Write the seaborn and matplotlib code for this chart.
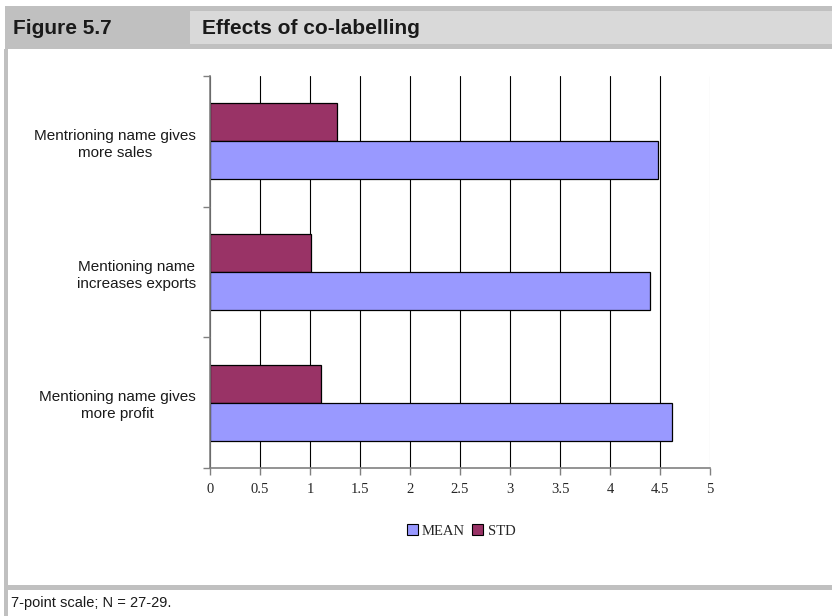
import numpy as np
import pandas as pd
import matplotlib
matplotlib.use("Agg")
import matplotlib.pyplot as plt
from matplotlib.patches import Rectangle
import seaborn as sns

# Survey statements (top to bottom) and their scores
categories = [
    "Mentrioning name gives\nmore sales",
    "Mentioning name\nincreases exports",
    "Mentioning name gives\nmore profit",
]
mean_values = [4.48, 4.40, 4.62]
std_values = [1.27, 1.01, 1.11]
x_ticks = [0, 0.5, 1, 1.5, 2, 2.5, 3, 3.5, 4, 4.5, 5]
x_tick_labels = ["0", "0.5", "1", "1.5", "2", "2.5", "3", "3.5", "4", "4.5", "5"]

MEAN_COLOR = "#9999FF"
STD_COLOR = "#993366"

sns.set_theme(style="white")
plt.rcParams["font.family"] = ["Liberation Sans", "DejaVu Sans"]

W, H = 832, 616
fig = plt.figure(figsize=(W / 100, H / 100), dpi=100)
fig.patch.set_facecolor("white")


def px_rect(x0, y0, x1, y1, color):
    """Rectangle given in pixel coordinates measured from the top-left corner."""
    fig.patches.append(Rectangle((x0 / W, 1 - y1 / H), (x1 - x0) / W, (y1 - y0) / H,
                                 transform=fig.transFigure, facecolor=color,
                                 edgecolor="none", zorder=0))


# Header strip and frame
px_rect(5, 6, W, 49, "#c0c0c0")
px_rect(190, 11, W, 44, "#d9d9d9")
px_rect(4, 49, 8, H, "#c0c0c0")
px_rect(4, 585, W, 590, "#c0c0c0")

narrow = ["Liberation Sans Narrow", "Liberation Sans", "DejaVu Sans"]
fig.text(13 / W, 1 - 28 / H, "Figure 5.7", fontsize=15, fontweight="bold",
         family=narrow, va="center", ha="left", color="#1a1a1a")
fig.text(202 / W, 1 - 28 / H, "Effects of co-labelling", fontsize=15, fontweight="bold",
         family=narrow, va="center", ha="left", color="#1a1a1a")
fig.text(11 / W, 1 - 603 / H, "7-point scale; N = 27-29.", fontsize=10.5,
         family=narrow, va="center", ha="left", color="#1a1a1a")

# Chart
ax = fig.add_axes([210 / W, 1 - 468 / H, 500 / W, 392 / H])

df = pd.DataFrame({
    "statement": categories * 2,
    "score": std_values + mean_values,
    "stat": ["STD"] * len(categories) + ["MEAN"] * len(categories),
})

sns.barplot(data=df, y="statement", x="score", hue="stat", order=categories,
            hue_order=["STD", "MEAN"], palette={"STD": STD_COLOR, "MEAN": MEAN_COLOR},
            saturation=1, width=0.58, edgecolor="black", linewidth=0.9, orient="h",
            legend=False, ax=ax, zorder=3)

ax.set_xlim(0, 5)
ax.set_ylim(2.5, -0.5)
ax.set_xlabel("")
ax.set_ylabel("")

ax.set_xticks(x_ticks)
ax.set_xticklabels(x_tick_labels, family=["Liberation Serif", "DejaVu Serif"], fontsize=10.5)
ax.tick_params(axis="x", direction="out", length=5, width=1, color="#808080",
               pad=6, bottom=True)

ax.set_yticks(range(len(categories)))
ax.set_yticklabels(categories, fontsize=11, multialignment="center", linespacing=1.3,
                   color="#1a1a1a")
ax.tick_params(axis="y", which="major", length=0, pad=10, left=False)
ax.set_yticks(np.arange(-0.5, len(categories), 1.0), minor=True)
ax.tick_params(axis="y", which="minor", direction="out", length=5, width=1,
               color="#808080", left=True)

ax.grid(axis="x", color="black", linewidth=0.8, zorder=1)
ax.grid(axis="y", visible=False)
ax.set_axisbelow(True)
ax.get_xgridlines()[-1].set_color("#c0c0c0")

for side in ("top", "right"):
    ax.spines[side].set_visible(False)
for side in ("left", "bottom"):
    ax.spines[side].set_color("#808080")
    ax.spines[side].set_linewidth(1.2)
    ax.spines[side].set_zorder(4)

# Legend: MEAN first, then STD
handles = [Rectangle((0, 0), 1, 1, facecolor=MEAN_COLOR, edgecolor="black", linewidth=0.8),
           Rectangle((0, 0), 1, 1, facecolor=STD_COLOR, edgecolor="black", linewidth=0.8)]
fig.legend(handles, ["MEAN", "STD"], loc="center", bbox_to_anchor=(461 / W, 1 - 531 / H),
           ncol=2, frameon=False, handlelength=0.75, handleheight=0.75,
           handletextpad=0.3, columnspacing=0.5,
           prop={"family": ["Liberation Serif", "DejaVu Serif"], "size": 10.5})

fig.savefig("out.png", dpi=100, facecolor="white")
